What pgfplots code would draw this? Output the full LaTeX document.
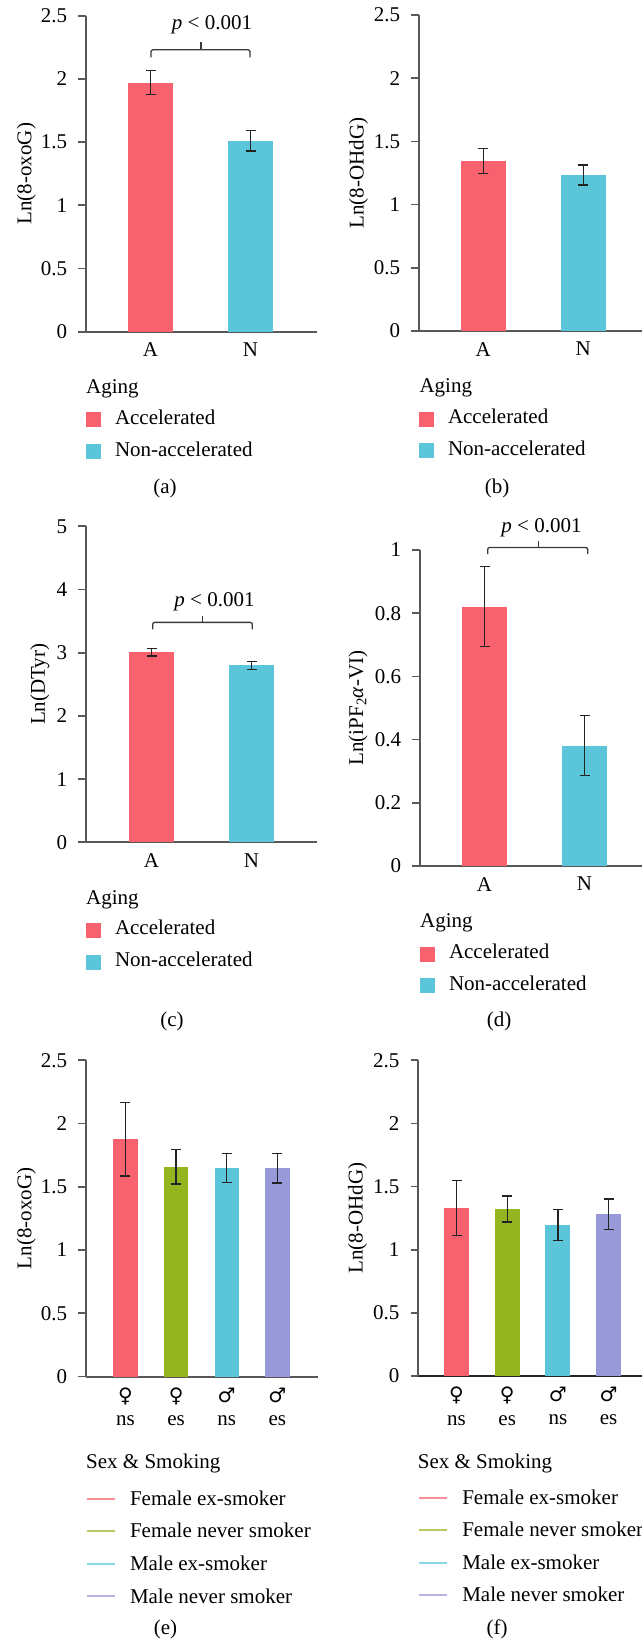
\documentclass[border=0pt]{standalone}
\usepackage{fontspec}
\setmainfont{Liberation Serif}
\newfontfamily\symf{DejaVu Sans}
\usepackage{pgfplots}
\pgfplotsset{compat=1.18}
\definecolor{cr}{RGB}{247,98,110}
\definecolor{cc}{RGB}{91,197,217}
\definecolor{cg}{RGB}{148,180,32}
\definecolor{cp}{RGB}{151,153,216}
\definecolor{lr}{RGB}{245,142,150}
\definecolor{lg}{RGB}{181,203,96}
\definecolor{lc}{RGB}{137,214,228}
\definecolor{lp}{RGB}{182,180,227}
\definecolor{axc}{RGB}{88,88,88}
\definecolor{erc}{RGB}{35,35,35}
\newcommand\f{\fontsize{21}{24}\selectfont}
\tikzset{br/.style={draw=erc!90, line width=1.3pt}}
\pgfplotsset{
 panel/.style={
  scale only axis, width=231pt, height=316pt,
  axis x line*=bottom, axis y line*=left,
  axis line style={-, draw=axc, line width=2pt},
  tick align=outside, major tick length=7.7pt,
  ytick style={draw=axc, line width=1.7pt},
  xtick style={draw=none},
  tick label style={font=\f},
  yticklabel style={inner sep=0pt, xshift=-11pt, anchor=east},
  label style={font=\f},
  /pgf/number format/assume math mode=true,
  ymin=0, clip=false,
  legend style={draw=none, fill=none, inner sep=0pt, outer sep=0pt, font=\f,
    row sep=14.25pt, column sep=14pt, nodes={inner sep=0pt}, anchor=north west},
  legend cell align=left,
 },
 sq/.style={legend image code/.code={\fill[##1,draw=none] (0pt,-9.6pt) rectangle (15pt,5.4pt);}},
 eb/.style={error bars/.cd, y dir=both, y explicit,
   error bar style={draw=erc, line width=1.3pt},
   error mark options={rotate=90, draw=erc, line width=1.3pt, mark size=5pt}},
}
\begin{document}
\begin{tikzpicture}
\useasboundingbox (0,0) rectangle (641pt,-1643pt);
% ---------------- (a)
\begin{axis}[panel, at={(86pt,-331.7pt)}, anchor=south west,
  xmin=-0.645, xmax=1.665, ymax=2.5, ytick={0,0.5,1,1.5,2,2.5},
  xtick={0,1}, xticklabels={A,N},
  ylabel={Ln(8-oxoG)}, ylabel style={at={(axis description cs:-0.258,0.5)}, anchor=center},
  legend style={at={(axis description cs:0,-0.2465)}}]
\addplot[ybar, bar width=0.45, bar shift=0pt, fill=cr, draw=none, sq, eb] coordinates {(0,1.97) +- (0,0.095)};
\addlegendentry{Accelerated}
\addplot[ybar, bar width=0.45, bar shift=0pt, fill=cc, draw=none, sq, eb] coordinates {(1,1.51) +- (0,0.08)};
\addlegendentry{Non-accelerated}
\draw[br, rounded corners=2pt] (axis cs:0.005,2.17) -- (axis cs:0.005,2.23) -- (axis cs:0.995,2.23) -- (axis cs:0.995,2.17);
\draw[br] (axis cs:0.505,2.23) -- (axis cs:0.505,2.29);
\node[anchor=base, font=\f] at (axis cs:0.615,2.39) {\textit{p} < 0.001};
\end{axis}
% ---------------- (b)
\begin{axis}[panel, at={(419pt,-331pt)}, anchor=south west,
  xmin=-0.643, xmax=1.667, ymax=2.5, ytick={0,0.5,1,1.5,2,2.5},
  xtick={0,1}, xticklabels={A,N},
  ylabel={Ln(8-OHdG)}, ylabel style={at={(axis description cs:-0.262,0.5)}, anchor=center},
  legend style={at={(axis description cs:0,-0.2465)}}]
\addplot[ybar, bar width=0.45, bar shift=0pt, fill=cr, draw=none, sq, eb] coordinates {(0,1.345) +- (0,0.098)};
\addlegendentry{Accelerated}
\addplot[ybar, bar width=0.45, bar shift=0pt, fill=cc, draw=none, sq, eb] coordinates {(1,1.235) +- (0,0.079)};
\addlegendentry{Non-accelerated}
\end{axis}
% ---------------- (c)
\begin{axis}[panel, at={(86pt,-842.3pt)}, anchor=south west,
  xmin=-0.655, xmax=1.655, ymax=5, ytick={0,1,2,3,4,5},
  xtick={0,1}, xticklabels={A,N},
  ylabel={Ln(DTyr)}, ylabel style={at={(axis description cs:-0.2,0.5)}, anchor=center},
  legend style={at={(axis description cs:0,-0.2465)}}]
\addplot[ybar, bar width=0.45, bar shift=0pt, fill=cr, draw=none, sq, eb] coordinates {(0,3.01) +- (0,0.06)};
\addlegendentry{Accelerated}
\addplot[ybar, bar width=0.45, bar shift=0pt, fill=cc, draw=none, sq, eb] coordinates {(1,2.80) +- (0,0.063)};
\addlegendentry{Non-accelerated}
\draw[br, rounded corners=2pt] (axis cs:0.012,3.37) -- (axis cs:0.012,3.48) -- (axis cs:1.008,3.48) -- (axis cs:1.008,3.37);
\draw[br] (axis cs:0.51,3.48) -- (axis cs:0.51,3.58);
\node[anchor=base, font=\f] at (axis cs:0.63,3.73) {\textit{p} < 0.001};
\end{axis}
% ---------------- (d)
\begin{axis}[panel, at={(420pt,-866pt)}, anchor=south west,
  xmin=-0.645, xmax=1.665, ymax=1, ytick={0,0.2,0.4,0.6,0.8,1},
  xtick={0,1}, xticklabels={A,N},
  ylabel={Ln(iPF\textsubscript{2}\textit{α}-VI)}, ylabel style={at={(axis description cs:-0.268,0.5)}, anchor=center},
  legend style={at={(axis description cs:0,-0.2465)}}]
\addplot[ybar, bar width=0.45, bar shift=0pt, fill=cr, draw=none, sq, eb] coordinates {(0,0.821) +- (0,0.127)};
\addlegendentry{Accelerated}
\addplot[ybar, bar width=0.45, bar shift=0pt, fill=cc, draw=none, sq, eb] coordinates {(1,0.381) +- (0,0.095)};
\addlegendentry{Non-accelerated}
\draw[br, rounded corners=2pt] (axis cs:0.032,0.987) -- (axis cs:0.032,1.008) -- (axis cs:1.032,1.008) -- (axis cs:1.032,0.987);
\draw[br] (axis cs:0.538,1.008) -- (axis cs:0.538,1.029);
\node[anchor=base, font=\f] at (axis cs:0.57,1.056) {\textit{p} < 0.001};
\end{axis}
% ---------------- (e)
\begin{axis}[panel, at={(86pt,-1376.5pt)}, anchor=south west, width=231.6pt, height=316.2pt,
  xmin=-0.78, xmax=3.796, ymax=2.5, ytick={0,0.5,1,1.5,2,2.5},
  xtick={0,1,2,3},
  xticklabels={{{\symf\fontsize{20}{20}\selectfont ♀}\\ns},{{\symf\fontsize{20}{20}\selectfont ♀}\\es},{{\symf\fontsize{20}{20}\selectfont ♂}\\ns},{{\symf\fontsize{20}{20}\selectfont ♂}\\es}},
  xticklabel style={align=center, font=\fontsize{21}{23.3}\selectfont},
  ylabel={Ln(8-oxoG)}, ylabel style={at={(axis description cs:-0.258,0.5)}, anchor=center},
  legend style={at={(axis description cs:0,-0.3612)}, row sep=16.5pt}]
\addplot[ybar, bar width=0.482, bar shift=0pt, fill=cr, draw=none, legend image code/.code={\draw[lr, line width=2pt] (0pt,0pt) -- (28pt,0pt);}, eb] coordinates {(0,1.876) +- (0,0.29)};
\addlegendentry{Female ex-smoker}
\addplot[ybar, bar width=0.482, bar shift=0pt, fill=cg, draw=none, legend image code/.code={\draw[lg, line width=2pt] (0pt,0pt) -- (28pt,0pt);}, eb] coordinates {(1,1.658) +- (0,0.137)};
\addlegendentry{Female never smoker}
\addplot[ybar, bar width=0.482, bar shift=0pt, fill=cc, draw=none, legend image code/.code={\draw[lc, line width=2pt] (0pt,0pt) -- (28pt,0pt);}, eb] coordinates {(2,1.648) +- (0,0.116)};
\addlegendentry{Male ex-smoker}
\addplot[ybar, bar width=0.482, bar shift=0pt, fill=cp, draw=none, legend image code/.code={\draw[lp, line width=2pt] (0pt,0pt) -- (28pt,0pt);}, eb] coordinates {(3,1.646) +- (0,0.115)};
\addlegendentry{Male never smoker}
\end{axis}
% ---------------- (f)
\begin{axis}[panel, at={(418.3pt,-1376pt)}, anchor=south west, width=231.6pt, height=315.7pt,
  xmin=-0.755, xmax=3.816, ymax=2.5, ytick={0,0.5,1,1.5,2,2.5},
  xtick={0,1,2,3},
  xticklabels={{{\symf\fontsize{20}{20}\selectfont ♀}\\ns},{{\symf\fontsize{20}{20}\selectfont ♀}\\es},{{\symf\fontsize{20}{20}\selectfont ♂}\\ns},{{\symf\fontsize{20}{20}\selectfont ♂}\\es}},
  xticklabel style={align=center, font=\fontsize{21}{23.3}\selectfont},
  x axis line style={draw=black!85},
  ylabel={Ln(8-OHdG)}, ylabel style={at={(axis description cs:-0.262,0.5)}, anchor=center},
  legend style={at={(axis description cs:0,-0.3597)}, row sep=16.5pt}]
\addplot[ybar, bar width=0.49, bar shift=0pt, fill=cr, draw=none, legend image code/.code={\draw[lr, line width=2pt] (0pt,0pt) -- (28pt,0pt);}, eb] coordinates {(0,1.33) +- (0,0.219)};
\addlegendentry{Female ex-smoker}
\addplot[ybar, bar width=0.49, bar shift=0pt, fill=cg, draw=none, legend image code/.code={\draw[lg, line width=2pt] (0pt,0pt) -- (28pt,0pt);}, eb] coordinates {(1,1.322) +- (0,0.103)};
\addlegendentry{Female never smoker}
\addplot[ybar, bar width=0.49, bar shift=0pt, fill=cc, draw=none, legend image code/.code={\draw[lc, line width=2pt] (0pt,0pt) -- (28pt,0pt);}, eb] coordinates {(2,1.197) +- (0,0.122)};
\addlegendentry{Male ex-smoker}
\addplot[ybar, bar width=0.49, bar shift=0pt, fill=cp, draw=none, legend image code/.code={\draw[lp, line width=2pt] (0pt,0pt) -- (28pt,0pt);}, eb] coordinates {(3,1.282) +- (0,0.119)};
\addlegendentry{Male never smoker}
\end{axis}
% ---------------- titles and captions
\node[anchor=base west, font=\f, inner sep=0pt] at (86pt,-393.3pt) {Aging};
\node[anchor=base west, font=\f, inner sep=0pt] at (419.3pt,-392.7pt) {Aging};
\node[anchor=base west, font=\f, inner sep=0pt] at (86pt,-904pt) {Aging};
\node[anchor=base west, font=\f, inner sep=0pt] at (420pt,-927.7pt) {Aging};
\node[anchor=base west, font=\f, inner sep=0pt] at (86pt,-1468pt) {Sex \& Smoking};
\node[anchor=base west, font=\f, inner sep=0pt] at (417.7pt,-1468pt) {Sex \& Smoking};
\node[anchor=base, font=\f, inner sep=0pt] at (165pt,-493pt) {(a)};
\node[anchor=base, font=\f, inner sep=0pt] at (497pt,-493pt) {(b)};
\node[anchor=base, font=\f, inner sep=0pt] at (172pt,-1026pt) {(c)};
\node[anchor=base, font=\f, inner sep=0pt] at (499pt,-1026pt) {(d)};
\node[anchor=base, font=\f, inner sep=0pt] at (165.5pt,-1634.6pt) {(e)};
\node[anchor=base, font=\f, inner sep=0pt] at (497pt,-1634pt) {(f)};
\end{tikzpicture}
\end{document}
